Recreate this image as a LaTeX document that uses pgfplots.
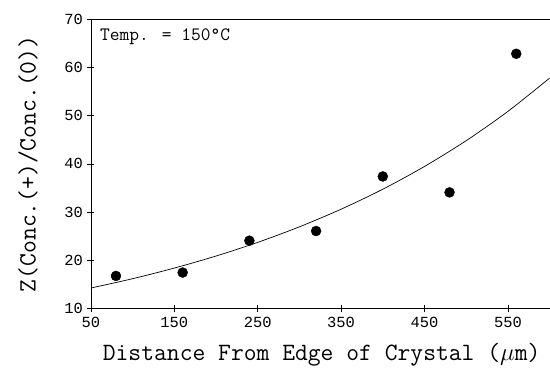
\documentclass[border=0pt]{standalone}
\usepackage{pgfplots}
\pgfplotsset{compat=1.18}
\usepackage{fontspec}
\setmainfont{Liberation Mono}
\begin{document}
\begin{tikzpicture}
\begin{axis}[
  scale only axis,
  width=459bp, height=290bp,
  xmin=50, xmax=600, ymin=10, ymax=70,
  xtick={50,150,250,350,450,550},
  ytick={10,20,30,40,50,60,70},
  axis lines=left,
  axis line style={-, line width=0.8pt},
  tick align=center,
  major tick length=7bp,
  tick style={line width=0.6pt, black},
  /pgf/number format/assume math mode=true,
  ticklabel style={font=\fontsize{15.5}{15.5}\selectfont},
  xticklabel style={yshift=-1bp},
  yticklabel style={xshift=-1bp},
  xlabel={Distance From Edge of Crystal ($\mu$m)},
  ylabel={Z(Conc.(+)/Conc.(0))},
  label style={font=\ttfamily\fontsize{25}{25}\selectfont},
  xlabel style={at={(axis description cs:0.503,-0.159)}, anchor=center},
  ylabel style={at={(axis description cs:-0.137,0.5)}, anchor=center},
  clip=false,
]
\addplot[black, line width=0.7pt, smooth] coordinates {
(50,14.3) (100,16.23) (150,18.43) (200,20.92) (250,23.75) (300,26.97)
(350,30.62) (400,34.76) (450,39.47) (500,44.81) (550,50.87) (600,57.76)};
\addplot[only marks, mark=*, mark size=5bp, black] coordinates {
(80,16.8) (160,17.5) (240,24.1) (320,26.1) (400,37.4) (480,34.1) (560,62.8)};
\draw[line width=0.8pt] (rel axis cs:0,1) -- (rel axis cs:1,1);
\node[anchor=west, font=\ttfamily\fontsize{19}{19}\selectfont, inner sep=0pt] at ([xshift=9bp,yshift=-18bp]rel axis cs:0,1) {Temp. = 150\textdegree C};
\coordinate (ll) at (rel axis cs:0,0);
\coordinate (ur) at (rel axis cs:1,1);
\end{axis}
\path ([xshift=-91bp,yshift=-65bp]ll) rectangle ([yshift=19bp]ur);
\end{tikzpicture}
\end{document}
